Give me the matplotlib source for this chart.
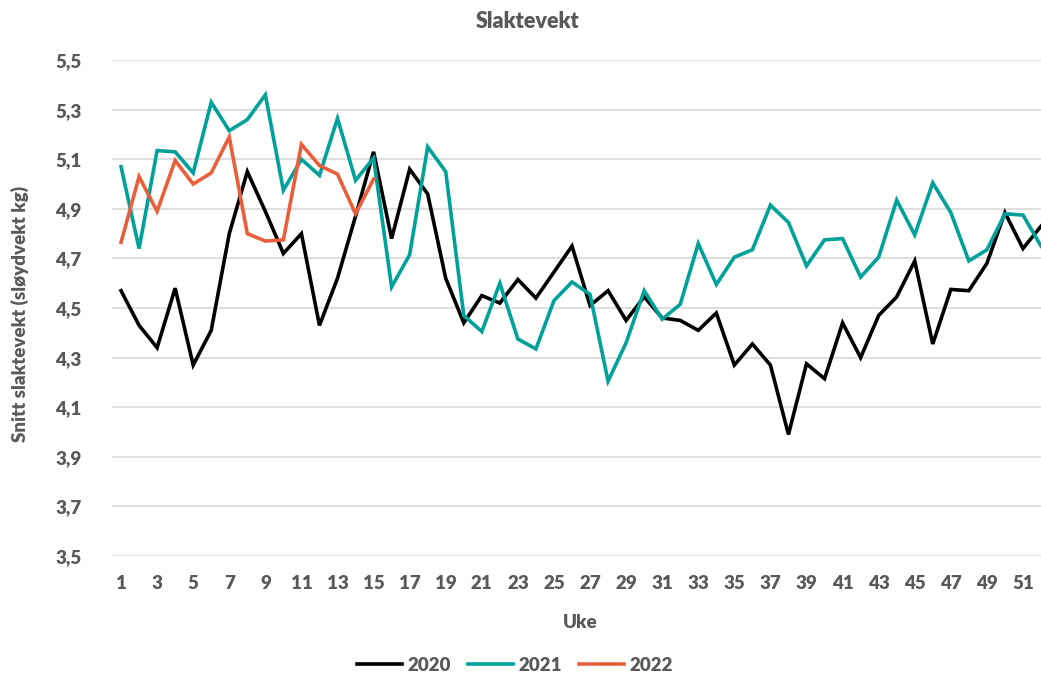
import matplotlib
matplotlib.use("Agg")
import matplotlib.pyplot as plt
from matplotlib.ticker import FuncFormatter

weeks = list(range(1, 53))

y2020 = [4.57, 4.43, 4.34, 4.58, 4.27, 4.41, 4.80, 5.05, 4.89, 4.72,
         4.80, 4.43, 4.62, 4.87, 5.13, 4.78, 5.06, 4.96, 4.62, 4.44,
         4.55, 4.52, 4.615, 4.54, 4.645, 4.75, 4.51, 4.57, 4.45, 4.545,
         4.46, 4.45, 4.41, 4.48, 4.27, 4.355, 4.27, 3.99, 4.275, 4.215,
         4.44, 4.30, 4.47, 4.545, 4.69, 4.355, 4.575, 4.57, 4.68, 4.885,
         4.74, 4.83]

y2021 = [5.07, 4.74, 5.135, 5.13, 5.045, 5.33, 5.215, 5.26, 5.36, 4.975,
         5.10, 5.035, 5.265, 5.015, 5.105, 4.585, 4.715, 5.15, 5.05, 4.47,
         4.405, 4.60, 4.375, 4.335, 4.53, 4.605, 4.555, 4.205, 4.36, 4.57,
         4.455, 4.515, 4.76, 4.595, 4.705, 4.735, 4.915, 4.845, 4.67, 4.775,
         4.78, 4.625, 4.705, 4.935, 4.795, 5.005, 4.885, 4.69, 4.735, 4.88,
         4.875, 4.75]

y2022 = [4.765, 5.03, 4.89, 5.095, 5.0, 5.045, 5.19, 4.80, 4.77, 4.775,
         5.16, 5.075, 5.04, 4.88, 5.02]

series = [("2020", y2020, "#000000"),
          ("2021", y2021, "#00A19A"),
          ("2022", y2022, "#E95F3C")]

grey = "#595959"
plt.rcParams['font.family'] = ['Lato', 'DejaVu Sans']
plt.rcParams['font.weight'] = 'bold'

fig = plt.figure(figsize=(10.41, 6.83), dpi=100)
ax = fig.add_axes([0.1076, 0.186, 0.8924, 0.726])

for name, vals, col in series:
    ax.plot(weeks[:len(vals)], vals, color=col, lw=2.6, label=name,
            solid_joinstyle='miter')

ax.set_xlim(0.5, 52.0)
ax.set_ylim(3.5, 5.5)
ax.set_yticks([3.5 + 0.2 * i for i in range(11)])
ax.set_xticks(list(range(1, 52, 2)))
ax.yaxis.set_major_formatter(FuncFormatter(lambda v, p: ("%.1f" % v).replace(".", ",")))
ax.grid(axis='y', color="#d9d9d9", lw=1.2)
ax.set_axisbelow(True)
for s in ax.spines.values():
    s.set_visible(False)
ax.tick_params(length=0, labelsize=13.5, labelcolor=grey)
ax.tick_params(axis='x', pad=14)
ax.tick_params(axis='y', pad=22)
for lab in ax.get_xticklabels() + ax.get_yticklabels():
    lab.set_fontweight('heavy')

fig.text(0.507, 0.968, "Slaktevekt", ha='center', va='center',
         fontsize=15.5, fontweight='heavy', color=grey)
fig.text(0.019, 0.54, "Snitt slaktevekt (sløydvekt kg)", rotation=90,
         ha='center', va='center', fontsize=13.5, fontweight='heavy', color=grey)
fig.text(0.557, 0.089, "Uke", ha='center', va='center',
         fontsize=13.5, fontweight='heavy', color=grey)

leg = fig.legend(loc='center', bbox_to_anchor=(0.495, 0.026), ncol=3,
                 frameon=False, fontsize=13.5, handlelength=2.4,
                 columnspacing=0.9, handletextpad=0.3)
for t in leg.get_texts():
    t.set_color(grey)
    t.set_fontweight('heavy')

fig.savefig("out.png", dpi=100)
